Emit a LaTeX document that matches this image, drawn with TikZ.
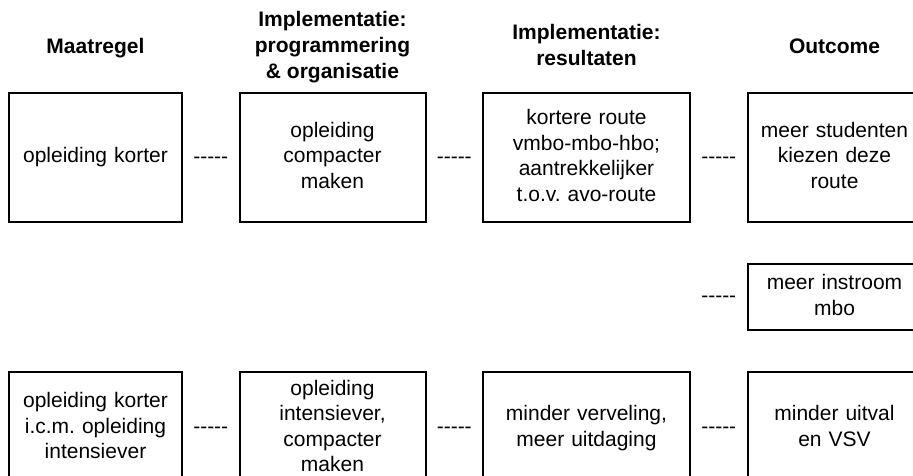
\documentclass[tikz,border=0pt]{standalone}
\usepackage{fontspec}
\setmainfont{Liberation Sans}[Ligatures=TeXOff]
\usetikzlibrary{positioning}
\frenchspacing

\begin{document}
\begin{tikzpicture}[x=1pt, y=-1pt,
            node distance=57.5pt,
            every node/.style={align=center, font=\fontsize{21}{25.5}\selectfont,
                               execute at begin node=\strut, execute at end node=\strut},
            blok/.style={draw, line width=2pt, inner sep=0pt, outer sep=0pt, minimum height=129pt},
            kop/.style={font=\fontsize{21}{26}\selectfont\bfseries},
            streep/.style={inner sep=0pt, yshift=-0.6pt},
            kol1/.style={text width=173pt},
            kol2/.style={text width=186pt},
            kol3/.style={text width=207pt},
            kol4/.style={text width=174pt}]
            \useasboundingbox (0,0) rectangle (913,476);
            \clip (0,0) rectangle (913,476);
            % bovenste rij
            \node[blok, kol1] (maat1) at (95.5,157.75) {opleiding korter};
            \node[blok, kol2] (impl1) [right=of maat1] {opleiding\\compacter\\maken};
            \node[blok, kol3] (res1)  [right=of impl1] {kortere route\\vmbo-mbo-hbo;\\aantrekkelijker\\t.o.v. avo-route};
            \node[blok, kol4] (out1)  [right=of res1]  {meer studenten\\kiezen deze\\route};
            % middelste rij
            \node[blok, kol4, minimum height=66pt] (out2) [below=42pt of out1] {meer instroom\\mbo};
            \coordinate (leeg2) at (res1.east |- out2);
            % onderste rij
            \node[blok, kol4, minimum height=112pt] (out3) [below=42pt of out2] {minder uitval\\en VSV};
            \node[blok, kol3, minimum height=112pt] (res3)  [left=of out3]  {minder verveling,\\meer uitdaging};
            \node[blok, kol2, minimum height=112pt] (impl3) [left=of res3]  {opleiding\\intensiever,\\compacter\\maken};
            \node[blok, kol1, minimum height=112pt] (maat3) [left=of impl3] {opleiding korter\\i.c.m. opleiding\\intensiever};
            % koppen
            \node[kop] (hmaat) at (maat1 |- 0,48.5) {Maatregel};
            \node[kop] (himpl) at (impl1 |- 0,48.5) {Implementatie:\\programmering\\\& organisatie};
            \node[kop] (hres)  at (res1 |- 0,48.5)  {Implementatie:\\resultaten};
            \node[kop] (hout)  at (out1 |- 0,48.5)  {Outcome};
            % streepjes
            \path (maat1) -- node[streep] {-----} (impl1)
                  (impl1) -- node[streep] {-----} (res1)
                  (res1)  -- node[streep] {-----} (out1)
                  (leeg2) -- node[streep] {-----} (out2)
                  (maat3) -- node[streep] {-----} (impl3)
                  (impl3) -- node[streep] {-----} (res3)
                  (res3)  -- node[streep] {-----} (out3);
        \end{tikzpicture}
\end{document}
